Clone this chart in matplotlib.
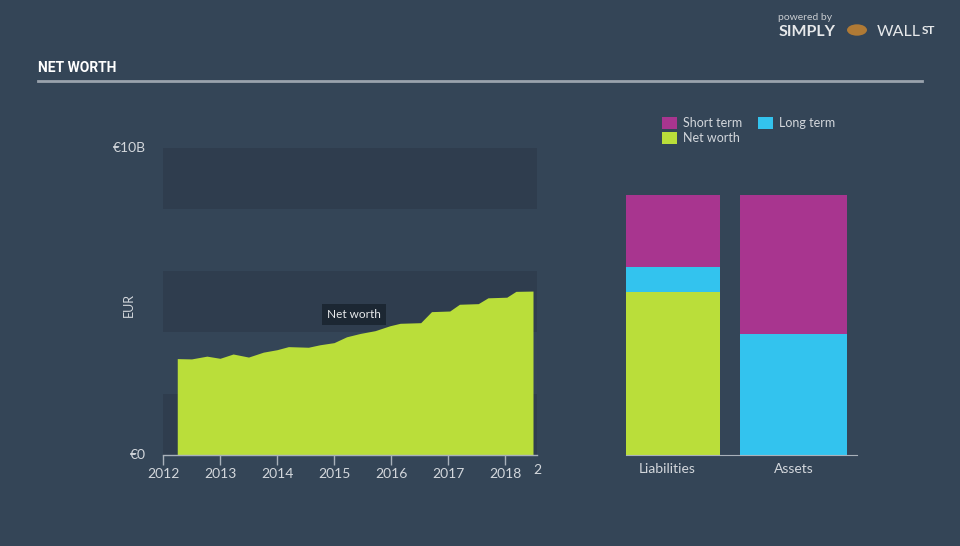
import numpy as np
import matplotlib
matplotlib.use("Agg")
import matplotlib.pyplot as plt

# net worth history (EUR billions)
years = [2012.25, 2012.5, 2012.77, 2013.0, 2013.23, 2013.5, 2013.76, 2014.0, 2014.2,
         2014.55, 2014.75, 2015.0, 2015.22, 2015.46, 2015.72, 2015.98, 2016.16, 2016.52,
         2016.71, 2017.03, 2017.2, 2017.53, 2017.7, 2018.03, 2018.19, 2018.49]
net_worth = [3.14, 3.13, 3.22, 3.15, 3.29, 3.19, 3.35, 3.43, 3.53,
             3.51, 3.59, 3.66, 3.85, 3.96, 4.05, 4.21, 4.29, 4.31,
             4.67, 4.69, 4.91, 4.93, 5.12, 5.14, 5.33, 5.34]
year_ticks = [2012, 2013, 2014, 2015, 2016, 2017, 2018]

# balance sheet (EUR billions)
bar_names = ["Liabilities", "Assets"]
bar_net_worth = [5.32, 0.0]
bar_long_term = [0.81, 3.94]
bar_short_term = [2.33, 4.53]

BG = "#344557"
BAND = "#2f3d4e"
GREEN = "#bade3a"
CYAN = "#33c3ee"
MAGENTA = "#a8358f"
TXT = "#d3d7dc"

plt.rcParams['font.family'] = ['Lato', 'DejaVu Sans']

fig = plt.figure(figsize=(9.6, 5.46), dpi=100)
fig.patch.set_facecolor(BG)

W, H = 960.0, 546.0
def box(x0, y0, x1, y1):
    return [x0 / W, 1 - y1 / H, (x1 - x0) / W, (y1 - y0) / H]

# ---- left area chart
ax = fig.add_axes(box(163, 148, 537, 455))
ax.set_facecolor("none")
for lo in (0, 4, 8):
    ax.axhspan(lo, lo + 2, color=BAND, zorder=0, lw=0)
ax.fill_between(years, net_worth, 0, color=GREEN, lw=0, zorder=2)
ax.set_xlim(2012, 2018.56)
ax.set_ylim(0, 10)
for s in ("top", "right", "left"):
    ax.spines[s].set_visible(False)
ax.spines["bottom"].set_color("#a9b1ba")
ax.spines["bottom"].set_linewidth(1)
ax.set_xticks(year_ticks)
ax.set_xticklabels([str(y) for y in year_ticks])
ax.tick_params(axis="x", colors="#a9b1ba", labelcolor=TXT, labelsize=10, length=7, width=1, pad=2)
ax.set_yticks([])
ax.text(-0.045, 1.0, "€10B", transform=ax.transAxes, ha="right", va="center", color=TXT, fontsize=10)
ax.text(-0.045, 0.0, "€0", transform=ax.transAxes, ha="right", va="center", color=TXT, fontsize=10)
ax.text(-0.09, 0.49, "EUR", transform=ax.transAxes, ha="center", va="center", rotation=90,
        color=TXT, fontsize=9)
ax.text(1.0, -0.05, "2", transform=ax.transAxes, ha="center", va="center", color=TXT, fontsize=10)
ax.text(2015.35, 4.58, "Net worth", ha="center", va="center", color="#e8eaec", fontsize=8.5,
        zorder=5, bbox=dict(boxstyle="square,pad=0.4", fc="#1c2733", ec="none"))

# ---- right stacked bars
bx = fig.add_axes(box(626, 148, 857, 455))
bx.set_facecolor("none")
xpos = np.array([0.0, 1.0])
widths = [0.78, 0.89]
b1 = np.array(bar_net_worth)
b2 = b1 + np.array(bar_long_term)
bx.bar(xpos, bar_net_worth, width=widths, color=GREEN, lw=0)
bx.bar(xpos, bar_long_term, bottom=b1, width=widths, color=CYAN, lw=0)
bx.bar(xpos, bar_short_term, bottom=b2, width=widths, color=MAGENTA, lw=0)
bx.set_xlim(-0.394, 1.53)
bx.set_ylim(0, 10)
for s in ("top", "right", "left"):
    bx.spines[s].set_visible(False)
bx.spines["bottom"].set_color("#a9b1ba")
bx.set_yticks([])
bx.set_xticks([-0.055, 1.0])
bx.set_xticklabels(bar_names)
bx.tick_params(axis="x", length=0, labelcolor=TXT, labelsize=10, pad=6)

# legend
def legend_item(x, y, color, label):
    fig.patches.append(plt.Rectangle((x / W, 1 - (y + 7) / H), 15 / W, 12 / H,
                                     transform=fig.transFigure, color=color, lw=0))
    fig.text((x + 21) / W, 1 - (y + 1) / H, label, ha="left", va="center", color=TXT, fontsize=9)

legend_item(662, 122, MAGENTA, "Short term")
legend_item(758, 122, CYAN, "Long term")
legend_item(662, 137, GREEN, "Net worth")

# ---- title and header
fig.text(38 / W, 1 - 68 / H, "NET WORTH", ha="left", va="center", color="white",
         fontsize=10, fontweight="bold",
         family=["DejaVu Sans Condensed", "Liberation Sans Narrow", "Roboto"])
fig.add_artist(plt.Line2D([38 / W, 922 / W], [1 - 81 / H, 1 - 81 / H], color="#9aa3ad", lw=2))

fig.text(805 / W, 1 - 18 / H, "powered by", ha="center", va="center", color="#c8ccd0", fontsize=7.5)
fig.text(807 / W, 1 - 32 / H, "SIMPLY", ha="center", va="center", color="#e6e8ea",
         fontsize=11.5, fontweight="bold")
fig.text(877 / W, 1 - 32 / H, "WALL", ha="left", va="center", color="#e6e8ea", fontsize=11.5)
fig.text(922 / W, 1 - 30 / H, "ST", ha="left", va="center", color="#e6e8ea", fontsize=8.5,
         fontweight="bold")
fig.patches.append(plt.Circle((857 / W, 1 - 30 / H), 10 / W, transform=fig.transFigure,
                              color="#b07a35", lw=0))

fig.savefig("out.png", dpi=100, facecolor=fig.get_facecolor())
